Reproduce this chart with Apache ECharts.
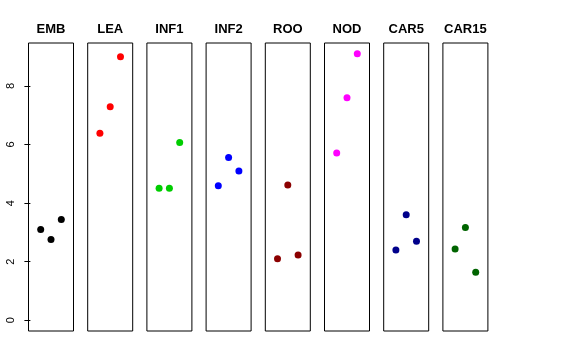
<!DOCTYPE html>
<html><head><meta charset="utf-8">
<script src="https://cdn.jsdelivr.net/npm/echarts@6/dist/echarts.min.js"></script>
<style>html,body{margin:0;padding:0;background:#fff}#c{width:576px;height:360px}</style>
</head><body><div id="c"></div>
<script>
const panels = ["EMB","LEA","INF1","INF2","ROO","NOD","CAR5","CAR15"];
const colors = ["#000000","#FF0000","#00CD00","#0000FF","#8B0000","#FF00FF","#00008B","#006400"];
const xPos = [1,2,3];
const EMB = [3.10, 2.76, 3.44];
const LEA = [6.39, 7.29, 9.00];
const INF1 = [4.51, 4.51, 6.07];
const INF2 = [4.59, 5.56, 5.10];
const ROO = [2.10, 4.62, 2.23];
const NOD = [5.71, 7.60, 9.10];
const CAR5 = [2.40, 3.60, 2.70];
const CAR15 = [2.43, 3.17, 1.64];
const values = [EMB, LEA, INF1, INF2, ROO, NOD, CAR5, CAR15];
const yTicks = [0,2,4,6,8];

(function(){
const chart = echarts.init(document.getElementById('c'), null, {renderer:'canvas'});
const grids=[], xAxes=[], yAxes=[], series=[], graphics=[];
const left0 = 28.5, step = 59.2, w = 45, gTop = 43, h = 288;
panels.forEach((name,i)=>{
  const l = left0 + i*step;
  grids.push({left:l, top:gTop, width:w, height:h, show:true, borderColor:'#000', borderWidth:1, backgroundColor:'transparent'});
  xAxes.push({type:'value', gridIndex:i, min:-0.185, max:4.185, show:false});
  yAxes.push({type:'value', gridIndex:i, min:-0.37, max:9.47, show:i===0,
    axisLine:{show:false}, splitLine:{show:false},
    axisTick:{show:true, length:6, lineStyle:{color:'#000'}, customValues:yTicks},
    axisLabel:{show:true, rotate:90, margin:12, color:'#000', fontSize:11, fontFamily:'Liberation Sans', customValues:yTicks}
  });
  series.push({type:'scatter', xAxisIndex:i, yAxisIndex:i, symbolSize:7,
    itemStyle:{color:colors[i], opacity:1}, data: xPos.map((x,k)=>[x, values[i][k]]), silent:true});
  graphics.push({type:'text', x:l + w/2, y:29, style:{text:name, fill:'#000', font:'bold 13px "Liberation Sans"', textAlign:'center', textVerticalAlign:'middle'}});
});
chart.setOption({animation:false, grid:grids, xAxis:xAxes, yAxis:yAxes, series:series, graphic:graphics});
})();
</script></body></html>
